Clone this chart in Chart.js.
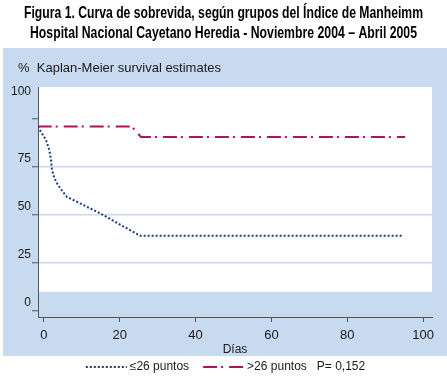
<!DOCTYPE html>
<html><head><meta charset="utf-8">
<style>html,body{margin:0;padding:0;background:#fff}#wrap{width:447px;height:378px}</style>
<script src="https://cdn.jsdelivr.net/npm/chart.js"></script>
</head><body><div id="wrap"><canvas id="c" width="447" height="378"></canvas></div>
<script>
const titleLines = ['Figura 1. Curva de sobrevida, según grupos del Índice de Manheimm', 'Hospital Nacional Cayetano Heredia - Noviembre 2004 – Abril 2005'];
const subtitleText = '%  Kaplan-Meier survival estimates';
const xTitle = 'Días';
const seriesNames = ['≤26 puntos', '>26 puntos'];
const pValueText = 'P= 0,152';

// ≤26 puntos (days, survival %)
const lowDays = [-1.66, 0.53, 1.40, 1.85, 2.11, 2.72, 3.69, 4.67, 5.99, 14.78, 25.33, 94.38];
const lowSurv = [96.0, 89.1, 83.9, 78.6, 73.4, 69.3, 65.6, 63.0, 59.5, 50.9, 39.2, 39.2];
// >26 puntos
const highDays = [-1.66, 23.14, 25.6, 95.3];
const highSurv = [96.1, 96.1, 90.6, 90.6];

const xTickValues = [0, 20, 40, 60, 80, 100];
const yTickValues = [0, 25, 50, 75, 100];
const yTickLabels = ['0', '25', '50', '75', '100'];

const SANS = "'Liberation Sans', Arial, Helvetica, sans-serif";
const PANEL = '#c8daf0';
const plotRegionFloor = 10;
const legendSampleWidth = 41;
const legendBoxWidth = 38;
const legendShift = 8;
// title layout (condensed look via fitted width)
const titleFont = "bold 17px 'Liberation Sans', Arial, sans-serif";
const titleBaselines = [18, 37.5];
const titleWidths = [399, 387];
const titleCenterX = 223.5;

const toPts = (xs, ys) => xs.map((x, i) => ({x, y: ys[i]}));

const panelPlugin = {
  id: 'panel',
  afterLayout(chart) {
    if (chart.legend) { chart.legend.left += legendShift; chart.legend.right += legendShift; }
  },
  beforeDraw(chart) {
    const {ctx, chartArea: a, scales: {y}} = chart;
    ctx.save();
    ctx.fillStyle = PANEL;
    ctx.fillRect(3, 48, chart.width - 3, 356 - 48);
    ctx.fillStyle = '#ffffff';
    const floor = y.getPixelForValue(plotRegionFloor);
    ctx.fillRect(a.left, a.top, a.right - a.left, floor - a.top);
    // title
    ctx.fillStyle = '#000';
    ctx.font = titleFont;
    ctx.textAlign = 'center';
    ctx.textBaseline = 'alphabetic';
    titleLines.forEach((t, i) => ctx.fillText(t, titleCenterX, titleBaselines[i], titleWidths[i]));
    // subtitle
    ctx.fillStyle = '#1a1a1a';
    ctx.font = "13px 'Liberation Sans', Arial, sans-serif";
    ctx.textAlign = 'left';
    ctx.textBaseline = 'middle';
    ctx.fillText(subtitleText, 18, 68.5);
    ctx.restore();
  },
  afterDraw(chart) {
    const ctx = chart.ctx;
    const boxes = chart.legend && chart.legend.legendHitBoxes || [];
    boxes.forEach((hb, i) => {
      const ds = chart.data.datasets[i];
      const yy = Math.round(hb.top + hb.height / 2);
      ctx.save();
      ctx.strokeStyle = ds.borderColor;
      ctx.lineWidth = ds.borderWidth;
      ctx.setLineDash(ds.borderDash);
      ctx.beginPath();
      ctx.moveTo(hb.left, yy);
      ctx.lineTo(hb.left + legendSampleWidth, yy);
      ctx.stroke();
      ctx.restore();
    });
  }
};

new Chart(document.getElementById('c'), {
  type: 'line',
  data: {
    datasets: [
      {label: seriesNames[0], data: toPts(lowDays, lowSurv), borderColor: '#1b3d78', borderWidth: 2, borderDash: [2, 2], pointRadius: 0, tension: 0, fill: false},
      {label: seriesNames[1], data: toPts(highDays, highSurv), borderColor: '#a8175e', borderWidth: 2, borderDash: [14, 4, 2, 6], pointRadius: 0, tension: 0, fill: false}
    ]
  },
  options: {
    responsive: false, animation: false, devicePixelRatio: 1,
    events: [],
    layout: {padding: {left: 3, right: 15, top: 87, bottom: -5}},
    plugins: {
      title: {display: false},
      subtitle: {display: false},
      legend: {
        display: true, position: 'bottom',
        labels: {
          usePointStyle: true, pointStyle: 'line', pointStyleWidth: legendBoxWidth, boxHeight: 12, padding: 14,
          color: '#1a1a1a', font: {family: SANS, size: 12},
          generateLabels(chart) {
            const items = Chart.defaults.plugins.legend.labels.generateLabels(chart);
            items.forEach(it => { it.lineWidth = 0; it.strokeStyle = 'rgba(0,0,0,0)'; it.fillStyle = 'rgba(0,0,0,0)'; });
            items[1].text = items[1].text + '   ' + pValueText;
            return items;
          }
        }
      },
      tooltip: {enabled: false}
    },
    scales: {
      x: {
        type: 'linear', min: -1.58, max: 102.37,
        afterBuildTicks: s => { s.ticks = xTickValues.map(v => ({value: v})); },
        afterFit: s => { s.height = 30; },
        grid: {drawOnChartArea: false, tickLength: 5, tickColor: '#555', tickWidth: 1},
        border: {color: '#555', width: 1},
        ticks: {padding: 6, autoSkip: false, maxRotation: 0, color: '#1a1a1a', font: {family: SANS, size: 13}},
        title: {display: true, text: xTitle, color: '#1a1a1a', font: {family: SANS, size: 12}, padding: {top: 0, bottom: -10}}
      },
      y: {
        type: 'linear', min: -3.125, max: 116.67,
        afterBuildTicks: s => { s.ticks = yTickValues.map(v => ({value: v})); },
        afterFit: s => { s.width = 35; },
        grid: {
          color: c => (c.tick && c.tick.value > 0 && c.tick.value < 100) ? PANEL : 'rgba(0,0,0,0)',
          lineWidth: 1.5, tickLength: 6, tickColor: '#555', tickWidth: 1
        },
        border: {color: '#555', width: 1},
        ticks: {
          padding: 1, labelOffset: -8, autoSkip: false, color: '#1a1a1a', font: {family: SANS, size: 12, lineHeight: 1.6},
          callback: (v) => { const lab = yTickLabels[yTickValues.indexOf(v)]; return v === 100 ? [lab, '', ''] : lab; }
        }
      }
    }
  },
  plugins: [panelPlugin]
});
</script>
</body></html>
